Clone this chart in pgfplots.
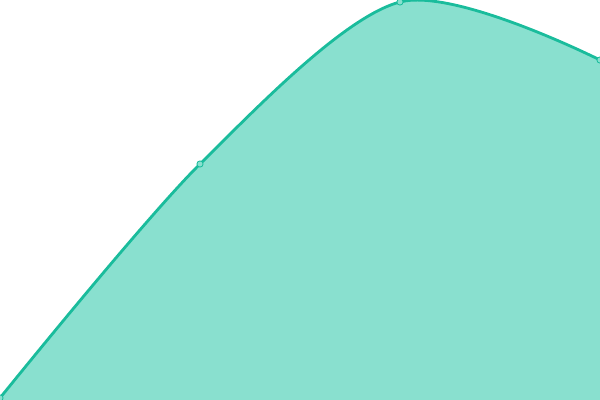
\documentclass[border=0pt]{standalone}
\usepackage{pgfplots}
\pgfplotsset{compat=1.18}
\definecolor{turq}{HTML}{1ABC9C}
\definecolor{turqfill}{HTML}{89E0CF}
\begin{document}
\begin{tikzpicture}
\begin{axis}[
  width=15cm, height=10cm,
  scale only axis,
  hide axis,
  xmin=0, xmax=3,
  ymin=0, ymax=400,
  clip mode=individual,
  clip marker paths=true,
]
% area
\addplot[draw=none, fill=turqfill, smooth, tension=0.5, forget plot]
  coordinates {(0,2) (1,236) (2,398) (3,340)} \closedcycle;
% line with points
\addplot[draw=turq, line width=2pt, smooth, tension=0.5,
  mark=*, mark size=2.2pt, mark options={fill=turqfill, draw=turq, line width=0.6pt}]
  coordinates {(0,2) (1,236) (2,398) (3,340)};
\end{axis}
\end{tikzpicture}
\end{document}
